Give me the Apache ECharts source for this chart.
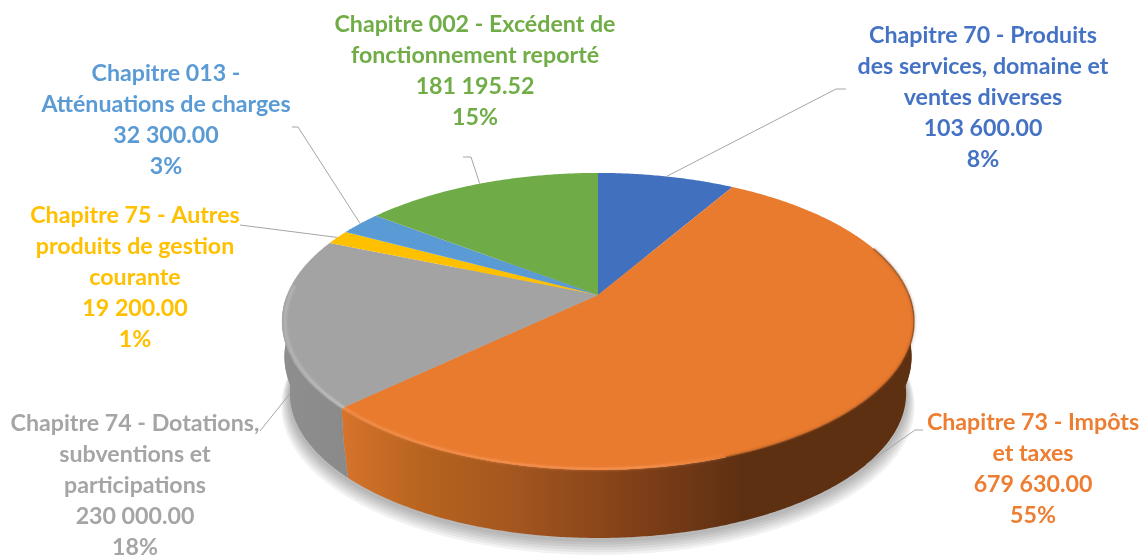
<!DOCTYPE html>
<html>
<head>
<meta charset="utf-8">
<style>
html, body { margin: 0; padding: 0; background: #fff; }
#container { width: 1142px; height: 556px; }
</style>
<script src="https://cdn.jsdelivr.net/npm/echarts@6/dist/echarts.min.js"></script>
</head>
<body>
<div id="container"></div>
<script>
let categories = [
    'Chapitre 70 - Produits\ndes services, domaine et\nventes diverses',
    'Chapitre 73 - Impôts\net taxes',
    'Chapitre 74 - Dotations,\nsubventions et\nparticipations',
    'Chapitre 75 - Autres\nproduits de gestion\ncourante',
    'Chapitre 013 -\nAtténuations de charges',
    'Chapitre 002 - Excédent de\nfonctionnement reporté'
];
let amounts = [103600, 679630, 230000, 19200, 32300, 181195.52];
let amountLabels = ['103 600.00', '679 630.00', '230 000.00', '19 200.00', '32 300.00', '181 195.52'];
let percentLabels = ['8%', '55%', '18%', '1%', '3%', '15%'];

let colors = ['#4170BE', '#E97B2F', '#A3A3A3', '#FFC000', '#5B9BD5', '#6FAB46'];
let textColors = ['#4472C4', '#ED7D31', '#A5A5A5', '#FFC000', '#5B9BD5', '#70AD47'];

// pie on the ground plane, seen in perspective (fitted on the reference)
let cx = 598, cy = 295, rA = 311, rB = 143.8, persp = 0.178;
// rings down the side wall: top rim, middle, foot
let midRing = {drop: 36, scale: 0.992};
let footRing = {drop: 72.4, scale: 0.975};
let rimRing = {drop: 0.5, scale: 0.99};

// label centre + top of first line, then the leader elbow points
let labelLayout = [
    {x: 983, y: 20, line: [[836, 89], [846, 89]]},
    {x: 1033, y: 407, line: [[915, 430], [923, 430]]},
    {x: 135, y: 408, line: [[260, 431]]},
    {x: 135, y: 200, line: [[240, 225]]},
    {x: 166, y: 58, line: [[298, 127], [292, 127]]},
    {x: 475, y: 9, line: [[471, 157], [463, 157]]}
];

function grad(stops) {
    return new echarts.graphic.LinearGradient(283, 0, 915, 0, stops.map(s => ({offset: (s[0] - 283) / 632, color: s[1]})), true);
}

let wallFill = {
    1: grad([[343, '#D6732C'], [420, '#B8641F'], [520, '#A2551F'], [620, '#854218'], [700, '#6B3616'], [740, '#5E3012'], [915, '#5E3012']]),
    2: grad([[283, '#8E8E8E'], [345, '#8A8A8A']])
};
let rimStroke = {
    1: grad([[343, '#F08A45'], [640, '#F5914F'], [720, '#E97B2F'], [915, '#E97B2F']]),
    2: grad([[283, '#B0B0B0'], [345, '#BEBEBE']])
};

let total = amounts.reduce((a, b) => a + b, 0);
let starts = [];
amounts.reduce((sum, v, i) => {
    starts[i] = sum / total * 360;
    return sum + v;
}, 0);

function project(deg, ring) {
    let t = deg * Math.PI / 180;
    let w = 1 + persp * Math.cos(t);
    let x = rA * Math.sin(t) / w;
    let y = -rB * Math.cos(t) / w;
    if (ring) {
        return [cx + x * ring.scale, cy + ring.drop + y * ring.scale];
    }
    return [cx + x, cy + y];
}

function arcPoints(a0, a1, ring) {
    let pts = [];
    let n = Math.max(2, Math.ceil(Math.abs(a1 - a0) * 2));
    for (let i = 0; i <= n; i++) {
        pts.push(project(a0 + (a1 - a0) * i / n, ring));
    }
    return pts;
}

function renderSlice(params, api) {
    let i = params.dataIndex;
    let a0 = starts[i];
    let a1 = a0 + api.value(0) / total * 360;
    let mid = (a0 + a1) / 2;
    let children = [];

    // ground shadow: stacked see-through rings growing out from the foot
    if (i == 0) {
        for (let j = 6; j >= 1; j--) {
            children.push({
                type: 'polygon',
                z2: 0,
                shape: {points: arcPoints(0, 360, {drop: footRing.drop + 1.5 + j * 1.8, scale: footRing.scale + j * 0.0045})},
                style: {fill: '#000', opacity: 0.05}
            });
        }
    }

    // side wall, only the front part shows; two strips so the edge is rounded
    let w0 = Math.max(a0, 90), w1 = Math.min(a1, 270);
    if (w1 > w0) {
        let fill = wallFill[i] || colors[i];
        children.push({
            type: 'polygon',
            z2: 1,
            shape: {points: arcPoints(w0, w1).concat(arcPoints(w1, w0, midRing))},
            style: {fill: fill}
        });
        children.push({
            type: 'polygon',
            z2: 1,
            shape: {points: arcPoints(w0, w1, {drop: midRing.drop - 1, scale: midRing.scale}).concat(arcPoints(w1, w0, footRing))},
            style: {fill: fill}
        });
    }

    // top face
    children.push({
        type: 'polygon',
        z2: 2,
        shape: {points: [[cx, cy]].concat(arcPoints(a0, a1))},
        style: {fill: colors[i]}
    });

    // soft dark edge on the right of the orange slice
    if (i == 1) {
        children.push({
            type: 'polyline',
            z2: 3,
            shape: {points: arcPoints(70, 160)},
            style: {fill: null, stroke: '#7A4018', lineWidth: 1.5, shadowBlur: 3, shadowColor: '#7A4018', opacity: 0.55}
        });
    }

    // rim highlight
    if (rimStroke[i]) {
        let r0 = i == 2 ? a0 : 160;
        let r1 = i == 2 ? 274 : a1;
        children.push({
            type: 'polyline',
            z2: 3,
            shape: {points: arcPoints(r0, r1, rimRing)},
            style: {
                fill: null,
                stroke: rimStroke[i],
                lineWidth: 2,
                shadowBlur: 3,
                shadowColor: i == 2 ? '#BEBEBE' : '#F08A45',
                opacity: 0.85
            }
        });
    }

    // leader, starts on the rim (on the wall foot for the two front slices)
    let front = i == 1 || i == 2;
    children.push({
        type: 'polyline',
        z2: 4,
        shape: {points: [project(mid, front ? footRing : null)].concat(labelLayout[i].line)},
        style: {fill: null, stroke: '#A6A6A6', lineWidth: 1}
    });

    children.push({
        type: 'text',
        z2: 5,
        x: labelLayout[i].x,
        y: labelLayout[i].y,
        style: {
            text: categories[i] + '\n' + amountLabels[i] + '\n' + percentLabels[i],
            fill: textColors[i],
            font: 'bold 23.2px Lato',
            lineHeight: 31,
            align: 'center',
            verticalAlign: 'top'
        }
    });
    return {type: 'group', children: children};
}

let chart = echarts.init(document.getElementById('container'));
chart.setOption({
    animation: false,
    backgroundColor: '#fff',
    series: [
        {
            type: 'custom',
            coordinateSystem: 'none',
            silent: true,
            data: amounts.map((v, i) => ({name: categories[i], value: v})),
            encode: {value: 0},
            renderItem: renderSlice
        }
    ]
});
</script>
</body>
</html>
